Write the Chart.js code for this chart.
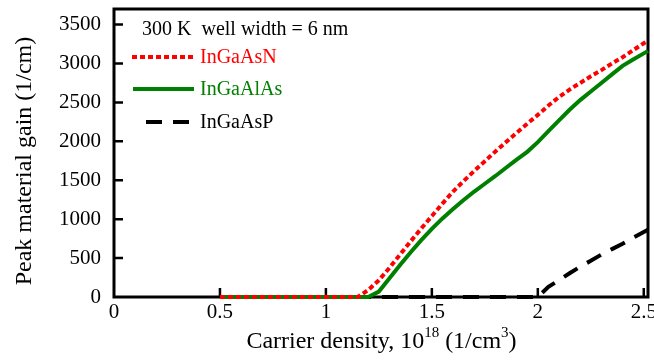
<!DOCTYPE html>
<html>
<head>
<meta charset="utf-8">
<script src="https://cdn.jsdelivr.net/npm/chart.js@4/dist/chart.umd.min.js"></script>
<style>
  html, body { margin: 0; padding: 0; background: #fff; }
  #wrap { width: 654px; height: 360px; }
</style>
</head>
<body>
<div id="wrap"><canvas id="gainChart" width="654" height="360"></canvas></div>
<script>
// carrier density (1e18 cm^-3)
const density = [0.5, 0.6, 0.7, 0.8, 0.9, 1.0, 1.1, 1.15, 1.2, 1.25, 1.3, 1.35, 1.4, 1.45, 1.5,
  1.55, 1.6, 1.65, 1.7, 1.75, 1.8, 1.85, 1.9, 1.95, 2.0, 2.05, 2.1, 2.15, 2.2, 2.25,
  2.3, 2.35, 2.4, 2.45, 2.5, 2.52];

// peak material gain (1/cm)
const gainInGaAsN = [0, 0, 0, 0, 0, 0, 0, 0, 90, 215, 375, 545, 715, 880, 1040,
  1200, 1355, 1490, 1620, 1745, 1870, 1990, 2110, 2225, 2340, 2460, 2570, 2665, 2750, 2835,
  2915, 3000, 3080, 3170, 3260, 3290];
const gainInGaAlAs = [0, 0, 0, 0, 0, 0, 0, 0, 0, 70, 240, 410, 575, 730, 875,
  1010, 1130, 1245, 1355, 1455, 1555, 1660, 1765, 1865, 1990, 2130, 2270, 2405, 2530, 2640,
  2750, 2860, 2970, 3050, 3130, 3160];
const gainInGaAsP = [0, 0, 0, 0, 0, 0, 0, 0, 0, 0, 0, 0, 0, 0, 0,
  0, 0, 0, 0, 0, 0, 0, 0, 0, 0, 130, 215, 305, 390, 465,
  545, 615, 685, 760, 835, 865];

const xTicks = [0, 0.5, 1, 1.5, 2, 2.5];
const yTicks = [0, 500, 1000, 1500, 2000, 2500, 3000, 3500];

const serif = "'Liberation Serif', 'Times New Roman', serif";

function toPoints(ys) {
  return density.map((x, i) => ({ x: x, y: ys[i] }));
}

// frame, inward tick marks, titles and legend box
const decorations = {
  id: 'decorations',
  beforeDatasetsDraw(chart) {
    const ctx = chart.ctx;
    const a = chart.chartArea;
    const xs = chart.scales.x, ys = chart.scales.y;
    ctx.save();
    ctx.strokeStyle = '#000';
    ctx.lineWidth = 3;
    ctx.strokeRect(a.left, a.top, a.right - a.left, a.bottom - a.top);
    ctx.lineWidth = 2.5;
    ctx.beginPath();
    xTicks.forEach(v => {
      if (v === 0) return;
      const px = xs.getPixelForValue(v);
      ctx.moveTo(px, a.bottom);
      ctx.lineTo(px, a.bottom - 9);
    });
    yTicks.forEach(v => {
      if (v === 0) return;
      const py = ys.getPixelForValue(v);
      ctx.moveTo(a.left, py);
      ctx.lineTo(a.left + 9, py);
    });
    ctx.stroke();
    ctx.restore();
  },
  afterDraw(chart) {
    const ctx = chart.ctx;
    ctx.save();
    ctx.fillStyle = '#000';

    // y axis title
    ctx.save();
    ctx.translate(25, 161);
    ctx.rotate(-Math.PI / 2);
    ctx.font = '24px ' + serif;
    ctx.textAlign = 'center';
    ctx.textBaseline = 'middle';
    ctx.fillText('Peak material gain (1/cm)', 0, 0);
    ctx.restore();

    // x axis title with superscripts
    const parts = [
      { t: 'Carrier density, 10', sup: false },
      { t: '18', sup: true },
      { t: ' (1/cm', sup: false },
      { t: '3', sup: true },
      { t: ')', sup: false }
    ];
    const big = '24px ' + serif, small = '15px ' + serif;
    let total = 0;
    parts.forEach(p => { ctx.font = p.sup ? small : big; total += ctx.measureText(p.t).width; });
    let x = 381.5 - total / 2;
    const base = 348;
    ctx.textAlign = 'left';
    ctx.textBaseline = 'alphabetic';
    parts.forEach(p => {
      ctx.font = p.sup ? small : big;
      ctx.fillText(p.t, x, p.sup ? base - 11 : base);
      x += ctx.measureText(p.t).width;
    });

    // legend
    ctx.font = '20px ' + serif;
    ctx.textBaseline = 'middle';
    ctx.fillText('300 K  well width = 6 nm', 142, 30);
    const rows = [57, 89, 122];
    const starts = [132, 133, 146];
    chart.data.datasets.forEach((ds, i) => {
      const y = rows[i];
      ctx.strokeStyle = ds.borderColor;
      ctx.lineWidth = ds.borderWidth;
      ctx.setLineDash(ds.borderDash || []);
      ctx.beginPath();
      ctx.moveTo(starts[i], y);
      ctx.lineTo(194, y);
      ctx.stroke();
      ctx.setLineDash([]);
      ctx.fillStyle = ds.labelColor;
      ctx.fillText(ds.label, 200, y + 1);
    });
    ctx.restore();
  }
};

function noOverflow(scale) {
  scale.paddingTop = 0;
  scale.paddingBottom = 0;
  scale.paddingLeft = 0;
  scale.paddingRight = 0;
}

new Chart(document.getElementById('gainChart'), {
  type: 'line',
  data: {
    datasets: [
      {
        label: 'InGaAsN',
        data: toPoints(gainInGaAsN),
        borderColor: '#ff0000',
        labelColor: '#ff0000',
        borderWidth: 4,
        borderDash: [5, 3],
        pointRadius: 0,
        tension: 0,
        clip: false
      },
      {
        label: 'InGaAlAs',
        data: toPoints(gainInGaAlAs),
        borderColor: '#008000',
        labelColor: '#008000',
        borderWidth: 4,
        pointRadius: 0,
        tension: 0,
        clip: false
      },
      {
        label: 'InGaAsP',
        data: toPoints(gainInGaAsP),
        borderColor: '#000000',
        labelColor: '#000000',
        borderWidth: 4,
        borderDash: [16, 11],
        pointRadius: 0,
        tension: 0,
        clip: false
      }
    ]
  },
  options: {
    responsive: false,
    animation: false,
    events: [],
    layout: { padding: { left: 0, right: 6, top: 9, bottom: 0 } },
    plugins: { legend: { display: false }, tooltip: { enabled: false } },
    scales: {
      x: {
        type: 'linear',
        min: 0,
        max: 2.52,
        afterBuildTicks(scale) { scale.ticks = xTicks.map(v => ({ value: v })); },
        afterFit(scale) { scale.height = 63; noOverflow(scale); },
        grid: { display: false, drawTicks: false },
        border: { display: false },
        ticks: {
          padding: 3,
          color: '#000',
          font: { family: serif, size: 21 },
          maxRotation: 0,
          callback: v => String(v)
        }
      },
      y: {
        min: 0,
        max: 3700,
        afterBuildTicks(scale) { scale.ticks = yTicks.map(v => ({ value: v })); },
        afterFit(scale) { scale.width = 114; noOverflow(scale); },
        grid: { display: false, drawTicks: false },
        border: { display: false },
        ticks: {
          padding: 13,
          color: '#000',
          font: { family: serif, size: 21 },
          callback: v => String(v)
        }
      }
    }
  },
  plugins: [decorations]
});
</script>
</body>
</html>
